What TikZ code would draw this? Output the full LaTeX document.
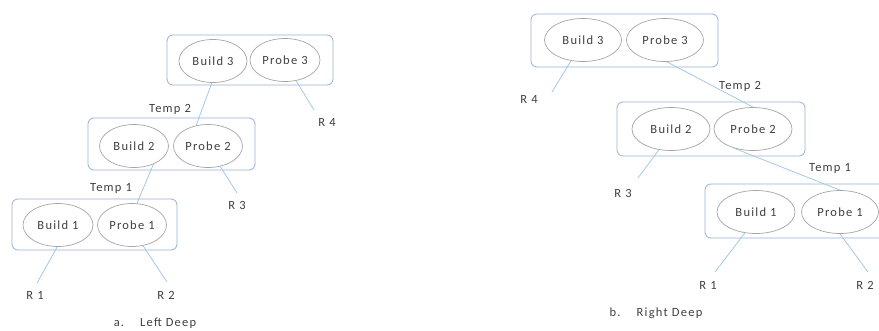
\documentclass[tikz,border=0pt]{standalone}
\usepackage{fontspec}
\setmainfont{Carlito}[LetterSpace=10]
\usetikzlibrary{shapes.geometric}
\definecolor{boxc}{HTML}{95B3D7}
\definecolor{ellc}{HTML}{A6A6A6}
\definecolor{linec}{HTML}{9DC3E6}
\definecolor{txt}{HTML}{404040}
\begin{document}
\begin{tikzpicture}[x=1pt,y=-1pt,
  grp/.style={draw=boxc, rounded corners=6pt, line width=0.8pt},
  op/.style={draw=ellc, ellipse, line width=0.7pt, inner sep=0pt, text=txt,
    font=\fontsize{12.5}{14}\selectfont, minimum width=#1, minimum height=43pt},
  op/.default=70pt,
  lbl/.style={text=txt, font=\fontsize{12.5}{14}\selectfont, inner sep=1pt},
  conn/.style={draw=linec, line width=0.7pt}]
\useasboundingbox (0,0) rectangle (879,330);
\clip (0,0) rectangle (879,330);
\fill[white] (0,0) rectangle (879,330);

% ---------- a. Left Deep ----------
\draw[grp] (167,35) rectangle (333,85);
\draw[grp] (88,118) rectangle (255,170);
\draw[grp] (12,199) rectangle (177,250);

\node[op=68pt] (lb3) at (213,61) {Build 3};
\node[op=70pt] (lp3) at (285,60) {Probe 3};
\node[op=69pt] (lb2) at (134,146) {Build 2};
\node[op=69pt] (lp2) at (208,146) {Probe 2};
\node[op=70pt] (lb1) at (58,225) {Build 1};
\node[op=69pt] (lp1) at (132,225) {Probe 1};

\node[lbl] (lt2) at (170,109) {Temp 2};
\node[lbl] (lt1) at (111,188) {Temp 1};
\node[lbl] (lr4) at (327,122) {R 4};
\node[lbl] (lr3) at (237,205) {R 3};
\node[lbl] (lr1) at (35,295) {R 1};
\node[lbl] (lr2) at (166,295) {R 2};

\coordinate (lr4e) at (314,110);
\coordinate (lr3e) at (237,193);
\coordinate (lr1e) at (37,283);
\coordinate (lr2e) at (167,282);

\draw[conn] (lb3.-93) -- (lp2.120);
\draw[conn] (lb2.-43) -- (lp1.77);
\draw[conn] (lp3.-62) -- (lr4e);
\draw[conn] (lp2.-59) -- (lr3e);
\draw[conn] (lb1.-92) -- (lr1e);
\draw[conn] (lp1.-62) -- (lr2e);

\node[lbl] (capa) at (155,323) {a.\hspace{16pt}Left Deep};

% ---------- b. Right Deep ----------
\draw[grp] (531,14) rectangle (718,67);
\draw[grp] (617,102) rectangle (805,156);
\draw[grp] (705,184) rectangle (905,238);

\node[op=77pt] (rb3) at (583,40) {Build 3};
\node[op=77pt] (rp3) at (665,40) {Probe 3};
\node[op=78pt] (rb2) at (671,129) {Build 2};
\node[op=78pt] (rp2) at (753,129) {Probe 2};
\node[op=78pt] (rb1) at (756,212) {Build 1};
\node[op=77pt] (rp1) at (840,212) {Probe 1};

\node[lbl] (rt2) at (740,86) {Temp 2};
\node[lbl] (rt1) at (830,168) {Temp 1};
\node[lbl] (rr4) at (529,99) {R 4};
\node[lbl] (rr3) at (623,193) {R 3};
\node[lbl] (rr1) at (708,285) {R 1};
\node[lbl] (rr2) at (865,285) {R 2};

\coordinate (rr4e) at (552,92);
\coordinate (rr3e) at (638,178);
\coordinate (rr1e) at (715,272);
\coordinate (rr2e) at (868,272);

\draw[conn] (rp3.-85) -- (rp2.90);
\draw[conn] (rp2.-136) -- (rp1.90);
\draw[conn] (rb3.-120) -- (rr4e);
\draw[conn] (rb2.-120) -- (rr3e);
\draw[conn] (rb1.-118) -- (rr1e);
\draw[conn] (rp1.-90) -- (rr2e);

\node[lbl] (capb) at (656,313) {b.\hspace{16pt}Right Deep};
\end{tikzpicture}
\end{document}
